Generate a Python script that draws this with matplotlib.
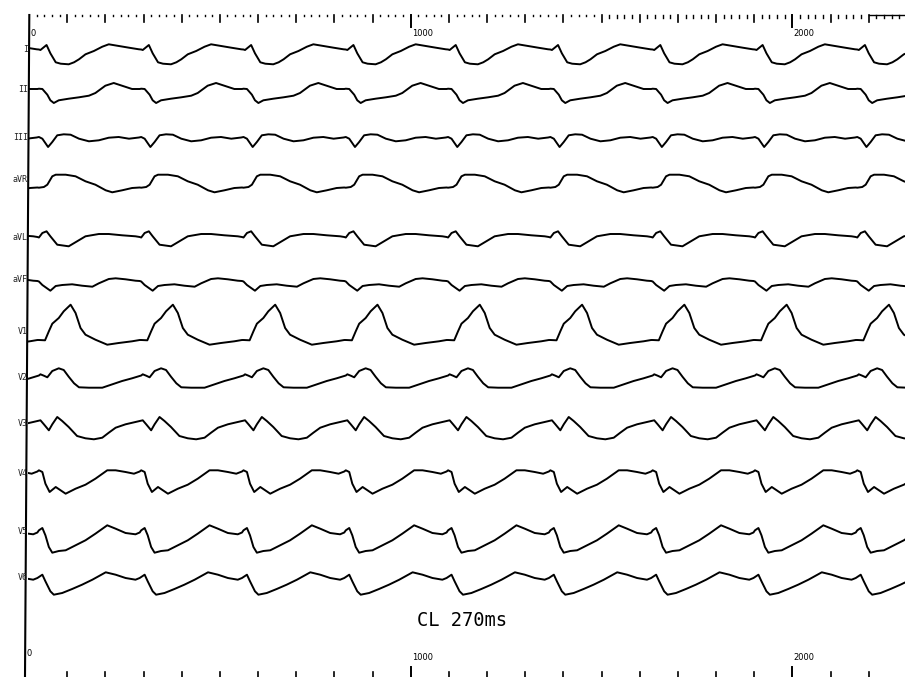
import numpy as np
import matplotlib
matplotlib.use("Agg")
import matplotlib.pyplot as plt
from matplotlib.patches import Rectangle

# beat times (ms, sharp deflection in lead I), cycle length ~268 ms
beat_ms = [-222, 46, 314, 582, 850, 1118, 1386, 1654, 1922, 2190]

# one-beat templates: time from beat (ms), deflection (px, up +)
I_t = [-20, -16, 0, 10, 24, 37, 58, 72, 85, 102, 124, 146, 163, 189, 216, 242]
I_v = [-0.5, -1, 4, -4.3, -13.3, -14.7, -15.3, -13.3, -10.3, -5.3, -2, 2.3, 4.7, 3, 1.3, -0.3]
II_t = [-20, -11, 2, 10, 19, 32, 58, 85, 111, 128, 154, 176, 198, 224, 244]
II_v = [-0.7, -1, -6.7, -12.3, -15, -12.3, -10.7, -9.3, -7.7, -5, 2.3, 5, 2.3, -1, -1]
III_t = [-20, -11, 4, 15, 28, 45, 63, 85, 111, 137, 163, 189, 216, 242]
III_v = [0, -1.7, -10, -5, 1.7, 2.7, 2.3, -1.7, -4.3, -3.3, -0.7, 0, -1.7, -0.5]
aVR_t = [-20, -7, 2, 15, 24, 50, 76, 102, 128, 155, 172, 198, 224, 244]
aVR_v = [0.3, 1, 3.3, 11.7, 13.3, 13.3, 11.7, 6.7, 3.3, -2.3, -4.3, -2.3, 0, 0.5]
aVL_t = [-20, -11, 0, 10, 28, 58, 80, 102, 137, 163, 198, 233, 244]
aVL_v = [-0.5, 4, 5.7, 0.7, -7.7, -9.3, -4.3, 0.7, 3, 3, 1.7, 0.7, 0]
aVF_t = [-20, -11, 10, 24, 41, 67, 93, 120, 137, 163, 181, 207, 233, 244]
aVF_v = [-1.5, -5, -10.7, -6, -5, -4.3, -5.7, -6.7, -3.3, 1, 1.7, 0.7, -0.7, -1]
V1_t = [-20, -4, 6, 15, 32, 45, 63, 76, 89, 102, 128, 159, 189, 224, 244]
V1_v = [3, 2.7, 11.7, 19.3, 25, 31.7, 38.3, 30, 15, 8.3, 3.3, -1.7, 0, 1.7, 3]
V2_t = [-20, -16, -7, 2, 15, 32, 45, 58, 72, 85, 111, 146, 172, 198, 224, 244]
V2_v = [5.5, 6.7, 5.3, 3.7, 10, 12.7, 11, 4.3, -2.3, -6.3, -6.7, -6.7, -3.3, 0, 2.7, 5]
V3_t = [-20, -16, -7, 6, 15, 28, 41, 58, 80, 102, 124, 146, 163, 181, 207, 233, 244]
V3_v = [4.3, 4.7, 0.7, -5.3, 0.7, 8, 4, -2, -11, -13.3, -14.3, -12.7, -7.7, -2.7, 0.7, 3, 4]
V4_t = [-20, -11, -3, 8, 24, 37, 50, 76, 102, 128, 159, 181, 207, 229, 244]
V4_v = [1.7, 0, -11.7, -20, -15, -18.3, -21.7, -16.7, -12.7, -6.7, 1.7, 1.7, 0, -1.7, 0.5]
V5_t = [-20, -11, -3, 6, 15, 32, 50, 76, 102, 128, 159, 181, 207, 233, 244]
V5_v = [0.7, 3, -4.3, -16, -21.7, -20, -19.3, -14.3, -9.3, -2.7, 5.7, 2.3, -2, -3.3, -1.5]
V6_t = [-20, -11, -3, 10, 19, 41, 67, 93, 120, 155, 181, 207, 233, 244]
V6_v = [0, 2.3, -4.3, -14.3, -17.7, -16, -12, -7.7, -2.7, 4.7, 2.3, -1, -2.7, -1]

lead_names = ["I", "II", "III", "aVR", "aVL", "aVF", "V1", "V2", "V3", "V4", "V5", "V6"]
templates = [(I_t, I_v), (II_t, II_v), (III_t, III_v), (aVR_t, aVR_v), (aVL_t, aVL_v),
             (aVF_t, aVF_v), (V1_t, V1_v), (V2_t, V2_v), (V3_t, V3_v), (V4_t, V4_v),
             (V5_t, V5_v), (V6_t, V6_v)]
baseline_y = [49, 88, 137, 188, 237, 280, 343, 381, 425, 472, 531, 577]
label_y = [50, 90, 138, 180, 237, 280, 331, 377, 424, 473, 532, 577]

# page layout: pixels vertically, ms horizontally
px_per_ms = 0.3817
x0_px = 29
W, H = 905, 677

fig = plt.figure(figsize=(W / 100, H / 100), dpi=100)
ax = fig.add_axes([0, 0, 1, 1])
ax.set_xlim(-x0_px / px_per_ms, (W - x0_px) / px_per_ms)
ax.set_ylim(H, 0)
ax.axis("off")

clip = Rectangle((-2, 0), 3000, H, transform=ax.transData)

for name, (tt, vv), by, ly in zip(lead_names, templates, baseline_y, label_y):
    xs, ys = [], []
    for b in beat_ms:
        xs += [b + t for t in tt]
        ys += [by - v for v in vv]
    ln, = ax.plot(xs, ys, color="black", lw=1.4, solid_joinstyle="round")
    ln.set_clip_path(clip)
    ax.text(-3, ly, name, ha="right", va="center", fontsize=6,
            family="DejaVu Sans Mono", color="#222222")

# left vertical line
ax.plot([0.8, -10.5], [15, H], color="black", lw=1.5)

# top ruler: dots every 20 ms, ticks every 100 ms
for ms in range(20, 2300, 20):
    if ms % 100 == 0:
        if ms % 1000 == 0:
            ax.plot([ms, ms], [15, 27], color="black", lw=1.4)
        else:
            ax.plot([ms, ms], [15, 21.5], color="black", lw=1.2)
    else:
        h = 1.0 if ms < 1500 else 3.0
        ax.plot([ms, ms], [15, 15 + h], color="black", lw=1.0)
ax.plot([2200, 2300], [15, 15], color="black", lw=1.0)

# bottom ruler
for ms in range(100, 2300, 100):
    if ms % 1000 == 0:
        ax.plot([ms, ms], [667, H], color="black", lw=1.4)
    else:
        ax.plot([ms, ms], [672, H], color="black", lw=1.2)

tick_labels = ["0", "1000", "2000"]
tick_ms = [0, 1000, 2000]
for lab, ms in zip(tick_labels, tick_ms):
    ax.text(ms + 3, 33.5, lab, ha="left", va="center", fontsize=6)
    yb = 653 if ms == 0 else 658
    ax.text(ms + (-6 if ms == 0 else 3), yb, lab, ha="left", va="center", fontsize=6)

ax.text(1135, 620, "CL 270ms", ha="center", va="center", fontsize=13.5,
        family="DejaVu Sans Mono")

fig.savefig("out.png", dpi=100)
